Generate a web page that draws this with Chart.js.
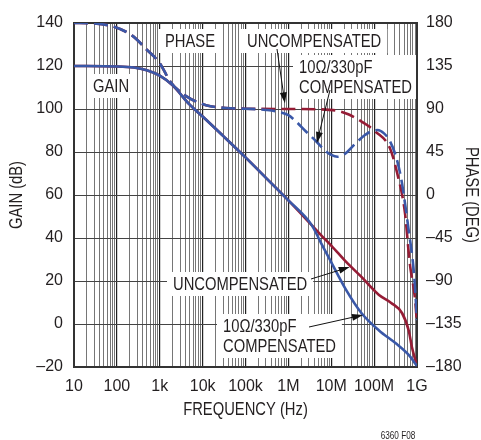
<!DOCTYPE html>
<html>
<head>
<meta charset="utf-8">
<script src="https://cdn.jsdelivr.net/npm/chart.js@4/dist/chart.umd.min.js"></script>
<style>
  body { margin: 0; background: #fff; }
  canvas { display: block; }
</style>
</head>
<body>
<canvas id="chart" width="481" height="440"></canvas>
<script>
// gain, dB (both curves identical up to ~3.5MHz)
var gainFreqUncomp = [10, 100, 250, 500, 1e3, 2e3, 5e3, 1e4, 3e4, 1e5, 3e5, 1e6, 3.5e6, 6e6, 1e7, 2.2e7, 5e7, 1.3e8, 2.5e8, 4.5e8, 6.4e8, 7.6e8, 1e9];
var gainUncomp     = [120, 119.8, 119.3, 118, 115.5, 111, 102, 96.5, 87.5, 77.5, 68, 57.5, 46, 41, 36.5, 29, 22, 13.5, 9.8, 5, -3, -10.7, -19.5];
var gainFreqComp   = [10, 100, 250, 500, 1e3, 2e3, 5e3, 1e4, 3e4, 1e5, 3e5, 1e6, 3.5e6, 6e6, 8.7e6, 2.2e7, 5.1e7, 1.3e8, 3.2e8, 6.4e8, 1e9];
var gainComp       = [120, 119.8, 119.3, 118, 115.5, 111, 102, 96.5, 87.5, 77.5, 68, 57.5, 46, 37, 31, 16, 5, -3, -9, -14.4, -19.5];

// phase, degrees
var phaseFreqUncomp = [10, 30, 86, 224, 500, 1e3, 1.8e3, 4.3e3, 1.2e4, 3.5e4, 1e5, 1e6, 5e6, 1.27e7, 2.5e7, 4.4e7, 1.1e8, 2.34e8, 3.4e8, 5.25e8, 6.76e8, 8.9e8, 1e9];
var phaseUncomp     = [180, 179.5, 176, 167, 152, 138, 118, 103, 94, 91, 90.3, 90, 89.7, 88.5, 84.5, 78.5, 66, 49, 24, -19, -71, -107, -134];
var phaseFreqComp   = [10, 30, 86, 224, 500, 1e3, 1.8e3, 4.3e3, 1.2e4, 3.5e4, 1e5, 3e5, 6e5, 1e6, 1.5e6, 2.5e6, 4.5e6, 7e6, 1e7, 1.4e7, 2e7, 3.7e7, 6e7, 9e7, 1.2e8, 1.7e8, 2.3e8, 3.2e8, 4.2e8, 4.7e8, 6.4e8, 8.5e8, 1e9];
var phaseComp       = [180, 179.5, 176, 167, 152, 138, 118, 103, 94, 91, 90.3, 89, 87, 83.5, 77, 67, 56, 47, 42, 40, 42.5, 54, 62.5, 67, 68, 64.5, 57, 41, 19, 6, -37, -82, -131];

var decadeValues = [10, 100, 1e3, 1e4, 1e5, 1e6, 1e7, 1e8, 1e9];
var decadeLabels = ['10', '100', '1k', '10k', '100k', '1M', '10M', '100M', '1G'];

var RED = '#951c35';
var BLUE = '#3a58a8';
var INK = '#231f20';
var FONT = '"Liberation Sans", Arial, sans-serif';
var SQUEEZE = 0.82; // condensed look for drawn text

function pts(xs, ys) {
  return xs.map(function (x, i) { return { x: x, y: ys[i] }; });
}

function isDecade(v) {
  var l = Math.log10(v);
  return Math.abs(l - Math.round(l)) < 1e-6;
}

// every 1..9 x decade for the grid
var xGridValues = [];
decadeValues.forEach(function (d, i) {
  if (i === decadeValues.length - 1) { xGridValues.push(d); return; }
  for (var m = 1; m < 10; m++) xGridValues.push(d * m);
});

function minus(v) { return String(v).replace('-', '\u2013'); }

function narrowText(ctx, s, x, y, rot) {
  ctx.save();
  ctx.translate(x, y);
  if (rot) ctx.rotate(rot);
  ctx.scale(SQUEEZE, 1);
  ctx.fillText(s, 0, 0);
  ctx.restore();
}

// text boxes placed over the grid
var textBoxes = [
  { x: 165, y: 47, lines: ['PHASE'] },
  { x: 93, y: 92, lines: ['GAIN'] },
  { x: 247, y: 47, lines: ['UNCOMPENSATED'] },
  { x: 299, y: 73, lines: ['10\u03A9/330pF', 'COMPENSATED'] },
  { x: 173, y: 290, lines: ['UNCOMPENSATED'] },
  { x: 223, y: 332, lines: ['10\u03A9/330pF', 'COMPENSATED'] }
];
// arrows: tail in pixels, tip in data units
var arrows = [
  { tx: 277, ty: 49, f: 8.3e5, v: 96, axis: 'phase' },
  { tx: 330, ty: 90, f: 4.6e6, v: 54.5, axis: 'phase' },
  { tx: 311, ty: 279, f: 2.7e7, v: 26.5, axis: 'y' },
  { tx: 309, ty: 327, f: 5.5e7, v: 4.2, axis: 'y' }
];

var decorPlugin = {
  id: 'decor',
  beforeDatasetsDraw: function (chart) {
    var ctx = chart.ctx, a = chart.chartArea;
    ctx.save();
    ctx.font = '18px ' + FONT;
    ctx.textBaseline = 'alphabetic';
    ctx.textAlign = 'left';
    textBoxes.forEach(function (b) {
      var w = 0;
      b.lines.forEach(function (l) { w = Math.max(w, ctx.measureText(l).width * SQUEEZE); });
      var last = b.y + (b.lines.length - 1) * 20;
      ctx.fillStyle = '#fff';
      ctx.fillRect(b.x - 6, b.y - 18, w + 12, last - b.y + 24);
      ctx.fillStyle = INK;
      b.lines.forEach(function (l, i) { narrowText(ctx, l, b.x, b.y + i * 20); });
    });
    ctx.strokeStyle = '#333';
    ctx.lineWidth = 2;
    ctx.strokeRect(a.left, a.top, a.right - a.left, a.bottom - a.top);
    ctx.restore();
  },
  afterDatasetsDraw: function (chart) {
    var ctx = chart.ctx;
    ctx.save();
    ctx.strokeStyle = '#111';
    ctx.fillStyle = '#111';
    ctx.lineWidth = 1;
    arrows.forEach(function (r) {
      var hx = chart.scales.x.getPixelForValue(r.f);
      var hy = chart.scales[r.axis].getPixelForValue(r.v);
      var ang = Math.atan2(hy - r.ty, hx - r.tx);
      ctx.beginPath();
      ctx.moveTo(r.tx, r.ty);
      ctx.lineTo(hx - 8 * Math.cos(ang), hy - 8 * Math.sin(ang));
      ctx.stroke();
      ctx.beginPath();
      ctx.moveTo(hx, hy);
      ctx.lineTo(hx - 11 * Math.cos(ang) + 3.5 * Math.sin(ang), hy - 11 * Math.sin(ang) - 3.5 * Math.cos(ang));
      ctx.lineTo(hx - 11 * Math.cos(ang) - 3.5 * Math.sin(ang), hy - 11 * Math.sin(ang) + 3.5 * Math.cos(ang));
      ctx.closePath();
      ctx.fill();
    });

    // axis titles
    var a = chart.chartArea, cy = (a.top + a.bottom) / 2;
    ctx.fillStyle = INK;
    ctx.font = '18px ' + FONT;
    ctx.textAlign = 'center';
    ctx.textBaseline = 'middle';
    narrowText(ctx, 'FREQUENCY (Hz)', (a.left + a.right) / 2, 410);
    narrowText(ctx, 'GAIN (dB)', 17, cy, -Math.PI / 2);
    narrowText(ctx, 'PHASE (DEG)', 471, cy, Math.PI / 2);
    ctx.font = '10px ' + FONT;
    narrowText(ctx, '6360 F08', 398, 436);
    ctx.restore();
  }
};

var tickFont = { family: FONT, size: 16 };

new Chart(document.getElementById('chart'), {
  type: 'line',
  data: {
    datasets: [
      { data: pts(phaseFreqComp, phaseComp), yAxisID: 'phase', borderColor: BLUE, borderWidth: 2.6, borderDash: [14, 6], order: 1 },
      { data: pts(phaseFreqUncomp, phaseUncomp), yAxisID: 'phase', borderColor: RED, borderWidth: 2.6, borderDash: [14, 6], order: 2 },
      { data: pts(gainFreqComp, gainComp), yAxisID: 'y', borderColor: BLUE, borderWidth: 2.6, order: 3 },
      { data: pts(gainFreqUncomp, gainUncomp), yAxisID: 'y', borderColor: RED, borderWidth: 2.6, order: 4 }
    ]
  },
  options: {
    responsive: false,
    animation: false,
    devicePixelRatio: 1,
    layout: { padding: { top: 23, left: 0, right: 0, bottom: 0 } },
    elements: {
      point: { radius: 0 },
      line: { cubicInterpolationMode: 'monotone', fill: false, borderCapStyle: 'butt' }
    },
    plugins: { legend: { display: false }, tooltip: { enabled: false } },
    scales: {
      x: {
        type: 'logarithmic',
        min: 10,
        max: 1e9,
        afterBuildTicks: function (scale) {
          scale.ticks = xGridValues.map(function (v) { return { value: v }; });
        },
        afterFit: function (scale) { scale.height = 73; },
        ticks: {
          autoSkip: false,
          maxRotation: 0,
          padding: 10,
          color: INK,
          font: tickFont,
          callback: function (val) {
            var i = decadeValues.indexOf(val);
            return i >= 0 ? decadeLabels[i] : '';
          }
        },
        grid: {
          drawTicks: false,
          color: function (c) { return isDecade(c.tick.value) ? '#222' : '#666'; },
          lineWidth: function (c) { return isDecade(c.tick.value) ? 1.2 : 0.9; }
        },
        border: { display: false }
      },
      y: {
        position: 'left',
        min: -20,
        max: 140,
        afterFit: function (scale) { scale.width = 74; },
        ticks: { stepSize: 20, padding: 11, color: INK, font: tickFont, callback: minus },
        grid: { drawTicks: false, color: '#444', lineWidth: 1 },
        border: { display: false }
      },
      phase: {
        position: 'right',
        min: -180,
        max: 180,
        afterFit: function (scale) { scale.width = 64; },
        ticks: { stepSize: 45, padding: 9, color: INK, font: tickFont, callback: minus },
        grid: { drawOnChartArea: false, drawTicks: false },
        border: { display: false }
      }
    }
  },
  plugins: [decorPlugin]
});
</script>
</body>
</html>
